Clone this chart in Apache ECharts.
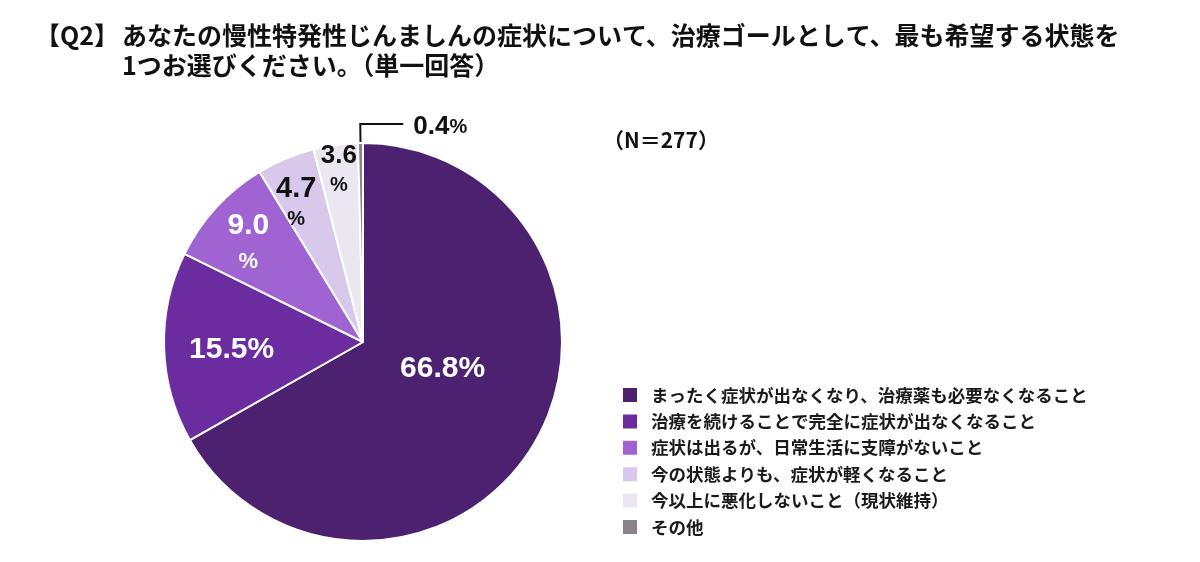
<!DOCTYPE html>
<html lang="ja">
<head>
  <meta charset="UTF-8">
  <title>Q2 pie</title>
  <script src="https://cdn.jsdelivr.net/npm/echarts@6/dist/echarts.min.js"></script>
  <style>
    html, body { margin: 0; padding: 0; width: 100%; height: 100%; background: #fff; }
    #chart { width: 1200px; height: 562px; }
  </style>
</head>
<body>
  <div id="chart"></div>
  <script>
    // 回答カテゴリ
    const categories = [
      'まったく症状が出なくなり、治療薬も必要なくなること',
      '治療を続けることで完全に症状が出なくなること',
      '症状は出るが、日常生活に支障がないこと',
      '今の状態よりも、症状が軽くなること',
      '今以上に悪化しないこと（現状維持）',
      'その他'
    ];
    // 割合 (%)
    const values = [66.8, 15.5, 9.0, 4.7, 3.6, 0.4];
    const colors = ['#4b2170', '#6b2c9f', '#a063d2', '#d8c9ec', '#ebe7f1', '#87828b'];

    // label nudges from the default inside position
    const labelShift = [[-9, -25], [-29, 5], [-39, -29], [-27, -44], [-10, -70]];

    const chart = echarts.init(document.getElementById('chart'));

    const num = 'Liberation Sans, Arial, sans-serif';
    const jp = '"Noto Sans CJK JP", sans-serif';

    const option = {
      title: [
        {
          text: '【Q2】',
          left: 30, top: 15,
          textStyle: { fontFamily: jp, fontSize: 25, fontWeight: 'bold', color: '#111', lineHeight: 30 }
        },
        {
          text: 'あなたの慢性特発性じんましんの症状について、治療ゴールとして、最も希望する状態を\n1つお選びください。（単一回答）',
          left: 117, top: 15,
          textStyle: { fontFamily: jp, fontSize: 25, fontWeight: 'bold', color: '#111', lineHeight: 30 }
        },
        {
          text: '（N＝277）',
          left: 598, top: 125,
          textStyle: { fontFamily: jp, fontSize: 21, fontWeight: 'bold', color: '#111' }
        }
      ],
      legend: {
        orient: 'vertical',
        left: 621, top: 386,
        padding: 0,
        icon: 'rect',
        itemWidth: 16, itemHeight: 16,
        itemGap: 8.4,
        selectedMode: false,
        data: categories,
        textStyle: {
          fontFamily: jp, fontSize: 17.5, fontWeight: 'bold', color: '#1a1a1a',
          lineHeight: 18, padding: [0, 0, 0, 8]
        }
      },
      series: [{
        type: 'pie',
        center: [363, 342],
        radius: 199,
        startAngle: 90,
        clockwise: true,
        animation: false,
        itemStyle: { borderColor: '#fff', borderWidth: 2 },
        data: categories.map((c, i) => ({
          name: c,
          value: values[i],
          itemStyle: { color: colors[i] },
          label: i === 5 ? { position: 'outside' } : { position: 'inside' },
          labelLine: i === 5
            ? { show: true, length: 19, length2: 43, lineStyle: { color: '#111', width: 2 } }
            : { show: false }
        })),
        label: {
          show: true,
          formatter: p => {
            const v = p.value.toFixed(1);
            const i = p.dataIndex;
            if (i < 2) return `{w|${v}%}`;
            if (i === 2) return `{w|${v}}\n{ws|%}`;
            if (i === 3) return `{k|${v}}\n{ks|%}`;
            if (i === 4) return `{k2|${v}}\n{ks|%}`;
            return `{k2|${v}}{ks|%}`;
          },
          rich: {
            w: { fontFamily: num, fontSize: 30, fontWeight: 'bold', color: '#fff', lineHeight: 36 },
            ws: { fontFamily: num, fontSize: 22, fontWeight: 'bold', color: '#fff', lineHeight: 36 },
            k: { fontFamily: num, fontSize: 29, fontWeight: 'bold', color: '#111', lineHeight: 32 },
            k2: { fontFamily: num, fontSize: 26, fontWeight: 'bold', color: '#111', lineHeight: 30 },
            ks: { fontFamily: num, fontSize: 20, fontWeight: 'bold', color: '#111', lineHeight: 30 }
          }
        },
        labelLayout: function (params) {
          const i = params.dataIndex;
          if (i < 5) {
            return { dx: labelShift[i][0], dy: labelShift[i][1] };
          }
          // その他: turn the leader to the right side
          const pts = params.labelLinePoints;
          if (!pts) return {};
          const p0 = pts[0], p1 = pts[1];
          const p2 = [p1[0] + 43, p1[1]];
          return {
            x: p2[0] + 10,
            y: p2[1] + 3,
            align: 'left',
            verticalAlign: 'middle',
            labelLinePoints: [p0, p1, p2]
          };
        }
      }]
    };

    chart.setOption(option);
  </script>
</body>
</html>
